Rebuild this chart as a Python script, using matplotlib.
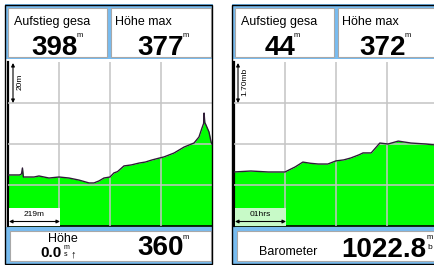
import matplotlib
matplotlib.use("Agg")
import matplotlib.pyplot as plt
from matplotlib.patches import Rectangle
from matplotlib import font_manager as fm

# ---------------- data ----------------
left_dist_m = [0, 50, 58, 62, 66, 112, 133, 176, 219, 262, 305, 348, 369, 391, 412, 438,
               455, 470, 498, 530, 563, 590, 618, 645, 670, 713, 756, 799, 820, 833,
               840, 842, 845, 850, 863, 872, 876]
left_alt_m = [346.9, 346.9, 347.4, 350.3, 345.9, 345.9, 346.4, 345.4, 345.9, 345.4, 344.4,
              343.0, 343.0, 344.0, 345.4, 345.9, 347.9, 348.5, 351.3, 351.8, 352.7, 353.2,
              354.2, 355.0, 355.7, 357.6, 360.5, 362.5, 365.4, 369.8, 372.0, 377.1, 372.5,
              371.3, 367.9, 363.0, 362.0]
left_ylim = (322, 402)
left_xlim = (0, 876)
left_xgrid = [219, 438, 657]
left_ygrid = [342, 362, 382]

right_time_h = [0, 0.33, 0.67, 0.96, 1.0, 1.2, 1.35, 1.5, 1.65, 1.84, 2.0, 2.15, 2.29,
                2.45, 2.53, 2.69, 2.86, 3.02, 3.22, 3.47, 3.76, 3.94, 4.0]
right_baro_mb = [1021.64, 1021.68, 1021.64, 1021.64, 1021.64, 1021.85, 1022.05, 1022.0,
                 1021.97, 1021.97, 1022.10, 1022.14, 1022.22, 1022.35, 1022.43, 1022.43,
                 1022.84, 1022.80, 1022.92, 1022.84, 1022.80, 1022.76, 1022.76]
right_ylim = (1019.4, 1026.2)
right_xlim = (0, 4)
right_xgrid = [1, 2, 3]
right_ygrid = [1021.1, 1022.8, 1024.5]

left_fields = ["Aufstieg gesa", "Höhe max"]
left_values = ["398", "377"]
right_fields = ["Aufstieg gesa", "Höhe max"]
right_values = ["44", "372"]

# ---------------- fonts ----------------
names = {f.name for f in fm.fontManager.ttflist}
NARROW = [n for n in ["Liberation Sans Narrow", "Liberation Sans"] if n in names] + ["DejaVu Sans"]
SANS = ["Liberation Sans", "DejaVu Sans"]

W, H = 435, 265
fig = plt.figure(figsize=(W / 100, H / 100), dpi=100)
fig.patch.set_facecolor("white")

bg = fig.add_axes([0, 0, 1, 1], zorder=0)
bg.set_xlim(0, W); bg.set_ylim(H, 0); bg.axis("off")

BLUE = "#78bcf0"
GRAY = "#a8a8a8"
GREEN = "#00ff00"
LINE = "#2e1c36"


def panel_frame(x0):
    bg.add_patch(Rectangle((x0, 4), 208, 55, facecolor=BLUE, edgecolor="none"))
    bg.add_patch(Rectangle((x0 + 3.5, 7.5), 99, 49, facecolor="white", edgecolor=GRAY, lw=0.8))
    bg.add_patch(Rectangle((x0 + 106, 7.5), 100, 49, facecolor="white", edgecolor=GRAY, lw=0.8))
    bg.add_patch(Rectangle((x0, 227), 208, 37, facecolor=BLUE, edgecolor="none"))
    bg.add_patch(Rectangle((x0 + 5, 231), 201, 30, facecolor="white", edgecolor=GRAY, lw=0.8))


panel_frame(5)
panel_frame(232)


def chart(x0, xs, ys, xlim, ylim, xg, yg):
    ax = fig.add_axes([x0 / W, (H - 226) / H, 204 / W, 164 / H], zorder=1)
    ax.set_xlim(*xlim); ax.set_ylim(*ylim)
    ax.fill_between(xs, ys, ylim[0], color=GREEN, lw=0, zorder=1)
    ax.plot(xs, ys, color=LINE, lw=1.0, zorder=3)
    ax.set_xticks(xg); ax.set_yticks(yg)
    ax.tick_params(length=0, labelbottom=False, labelleft=False)
    ax.set_axisbelow(False)
    ax.grid(True, color="#c4c4c4", lw=1.1, zorder=2)
    for s in ["top", "right"]:
        ax.spines[s].set_visible(False)
    ax.spines["left"].set_linewidth(1.6)
    ax.spines["bottom"].set_linewidth(1.2)
    return ax


chart(8, left_dist_m, left_alt_m, left_xlim, left_ylim, left_xgrid, left_ygrid)
chart(234, right_time_h, right_baro_mb, right_xlim, right_ylim, right_xgrid, right_ygrid)

ov = fig.add_axes([0, 0, 1, 1], zorder=2)
ov.set_xlim(0, W); ov.set_ylim(H, 0); ov.axis("off")
ov.patch.set_alpha(0)

ov.add_patch(Rectangle((5.5, 4.5), 207, 259, facecolor="none", edgecolor="black", lw=1.0))
ov.add_patch(Rectangle((232.5, 4.5), 210, 259, facecolor="none", edgecolor="black", lw=1.0))

fig.canvas.draw()
renderer = fig.canvas.get_renderer()


def right_edge(t):
    bb = t.get_window_extent(renderer)
    return ov.transData.inverted().transform((bb.x1, bb.y1))[0]


def unit(t, top):
    x = right_edge(t) - 1.5
    ov.text(x, top, "m", fontsize=5.5, family=SANS, va="top", ha="left")


# header texts
for x0, fields, values, centers in [(5, left_fields, left_values, [55, 161]),
                                     (232, right_fields, right_values, [280, 383])]:
    ov.text(x0 + 9, 25, fields[0], fontsize=9, family=SANS, va="baseline", ha="left")
    ov.text(x0 + 110, 25, fields[1], fontsize=9, family=SANS, va="baseline", ha="left")
    for v, cx in zip(values, centers):
        t = ov.text(cx, 55, v, fontsize=20, family=NARROW, weight="bold", va="baseline", ha="center")
        unit(t, 32)

# vertical scale bars
for x, lab in [(13, "20m"), (238, "1.70mb")]:
    ov.annotate("", xy=(x, 63), xytext=(x, 103),
                arrowprops=dict(arrowstyle="<|-|>", color="black", lw=0.8, mutation_scale=5, shrinkA=0, shrinkB=0))
    ov.text(x + 7, 82, lab, fontsize=6, family=SANS, rotation=90, va="center", ha="center")

# horizontal scale boxes
for x0, lab, fc in [(9, "219m", "white"), (235, "01hrs", "#c8fac8")]:
    ov.add_patch(Rectangle((x0, 208), 51, 18, facecolor=fc, edgecolor="none"))
    ov.annotate("", xy=(x0, 221.5), xytext=(x0 + 51, 221.5),
                arrowprops=dict(arrowstyle="<|-|>", color="black", lw=0.8, mutation_scale=5, shrinkA=0, shrinkB=0))
    ov.text(x0 + 25, 214, lab, fontsize=6, family=SANS, va="center", ha="center")

# footer left
ov.text(63, 242, "Höhe", fontsize=9, family=SANS, va="baseline", ha="center")
ov.text(62, 257, "0.0", fontsize=11, family=NARROW, weight="bold", va="baseline", ha="right")
ov.text(63.5, 244, "m", fontsize=5, family=SANS, va="top", ha="left")
ov.text(64, 251, "s", fontsize=5, family=SANS, va="top", ha="left")
ov.text(73, 257, "↑", fontsize=8, family=SANS, va="baseline", ha="center")
t = ov.text(161, 255, "360", fontsize=20, family=NARROW, weight="bold", va="baseline", ha="center")
unit(t, 234)

# footer right
ov.text(288, 255, "Barometer", fontsize=9, family=SANS, va="baseline", ha="center")
t = ov.text(426, 257, "1022.8", fontsize=20, family=NARROW, weight="bold", va="baseline", ha="right")
ov.text(426.5, 234, "m", fontsize=5.5, family=SANS, va="top", ha="left")
ov.text(427, 244, "b", fontsize=6, family=SANS, va="top", ha="left")

fig.savefig("out.png", dpi=100, facecolor="white")
